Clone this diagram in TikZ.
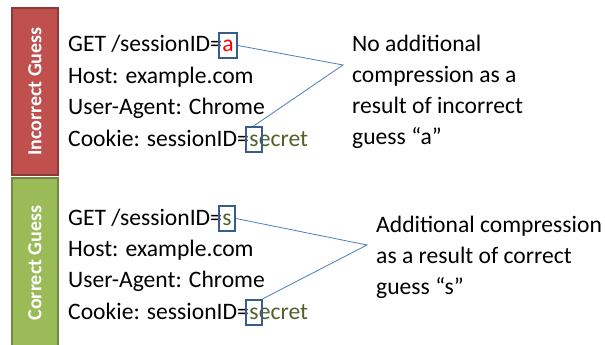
\documentclass[tikz,border=0pt]{standalone}
\usepackage{fontspec}
\setmainfont{Carlito}
\usetikzlibrary{fit}

\definecolor{barred}{HTML}{C0504D}
\definecolor{barreddark}{HTML}{8C3A38}
\definecolor{bargreen}{HTML}{9BBB59}
\definecolor{bargreendark}{HTML}{71893F}
\definecolor{boxblue}{HTML}{385D8A}
\definecolor{linkblue}{HTML}{4A7EBB}
\definecolor{secretgreen}{HTML}{4F6228}

\tikzset{
  bar/.style={line width=2pt, minimum width=167pt, minimum height=46pt, rotate=90,
    text=white, font=\fontsize{20}{24}\selectfont\bfseries},
  req/.style={anchor=base west, inner sep=0pt, text height=16pt, text depth=3pt,
    font=\fontsize{23.6}{31}\selectfont},
  guessbox/.style={draw=boxblue, line width=2pt, inner xsep=3pt, inner ysep=3pt},
  link/.style={draw=linkblue, line width=0.8pt},
  note/.style={anchor=base west, inner sep=0pt, align=left,
    font=\fontsize{23.6}{31}\selectfont}
}

\begin{document}
\begin{tikzpicture}[x=1pt,y=-1pt]
  \useasboundingbox (0,0) rectangle (605,345);
  % the two side bars
  \node[bar, fill=barred, draw=barreddark] (wrongbar) at (35,91.5) {Incorrect Guess};
  \node[bar, fill=bargreen, draw=bargreendark, minimum width=170pt] (rightbar) at (35,263) {Correct Guess};

  % incorrect guess request
  \node[req] (get1) at (68,52) {GET /sessionID=};
  \node[req, text=red] (guess1) at (get1.base east) {a};
  \node[req] (host1) at (68,83) {Host: example.com};
  \node[req] (agent1) at (68,114.5) {User-Agent: Chrome};
  \node[req] (cookie1) at (68,146) {Cookie: sessionID=};
  \node[req, text=secretgreen] (first1) at (cookie1.base east) {s};
  \node[req, text=secretgreen] (rest1) at (first1.base east) {ecret};
  \node[guessbox, fit=(guess1)] (gbox1) {};
  \node[guessbox, fit=(first1)] (sbox1) {};

  % correct guess request
  \node[req] (get2) at (68,225) {GET /sessionID=};
  \node[req, text=secretgreen] (guess2) at (get2.base east) {s};
  \node[req] (host2) at (68,256) {Host: example.com};
  \node[req] (agent2) at (68,287.5) {User-Agent: Chrome};
  \node[req] (cookie2) at (68,319) {Cookie: sessionID=};
  \node[req, text=secretgreen] (first2) at (cookie2.base east) {s};
  \node[req, text=secretgreen] (rest2) at (first2.base east) {ecret};
  \node[guessbox, fit=(guess2)] (gbox2) {};
  \node[guessbox, fit=(first2)] (sbox2) {};

  % callouts (base = last line)
  \node[note] (note1) at (352,144) {No additional\\compression as a\\result of incorrect\\guess “a”};
  \node[note] (note2) at (376,294) {Additional compression\\as a result of correct\\guess “s”};
  \coordinate (tip1) at (343,65);
  \coordinate (tip2) at (367,245);
  \draw[link] (gbox1.east) -- (tip1) -- (sbox1.north);
  \draw[link] (gbox2.east) -- (tip2) -- (sbox2.north east);
\end{tikzpicture}
\end{document}
